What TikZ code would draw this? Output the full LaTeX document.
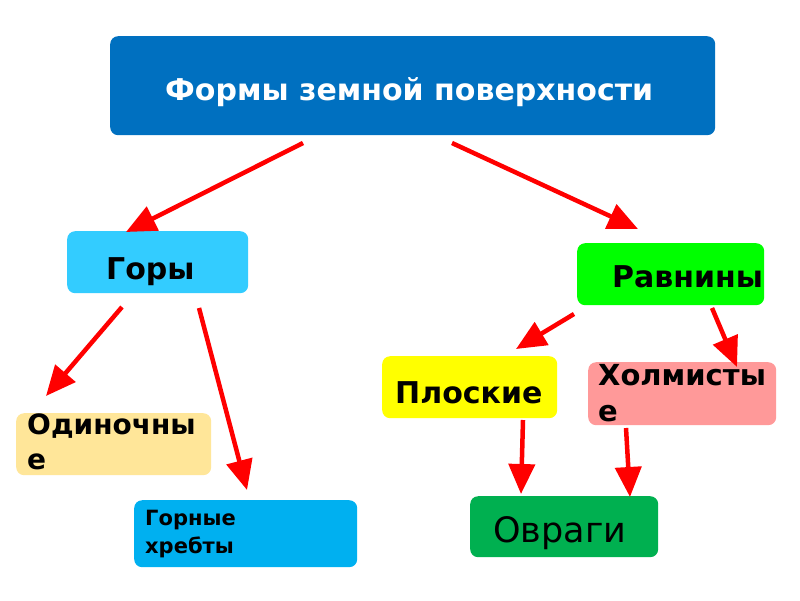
\documentclass[tikz,border=0pt]{standalone}
\usepackage{fontspec}
\setmainfont{DejaVu Sans}
\usetikzlibrary{arrows.meta,calc}
\definecolor{cTop}{HTML}{0070C0}
\definecolor{cGory}{HTML}{33CCFF}
\definecolor{cRavn}{HTML}{00FF00}
\definecolor{cOdin}{HTML}{FFE699}
\definecolor{cHreb}{HTML}{00B0F0}
\definecolor{cPlos}{HTML}{FFFF00}
\definecolor{cHolm}{HTML}{FF9999}
\definecolor{cOvr}{HTML}{00B050}
\begin{document}
\begin{tikzpicture}[x=1pt,y=-1pt,
  box/.style={rounded corners=8pt, inner sep=0pt, anchor=north west},
  lbl/.style={font=\bfseries, text=black, inner sep=0pt, anchor=base west, align=left},
  arr/.style={draw=red, line width=4.5pt, -{Triangle[length=30pt,width=26pt]}}]
\useasboundingbox[fill=white] (0,0) rectangle (800,600);
% boxes
\node[box, fill=cTop,  minimum width=605pt, minimum height=99pt] (top)  at (110,36) {};
\node[box, fill=cGory, minimum width=181pt, minimum height=62pt] (gory) at (67,231) {};
\node[box, fill=cRavn, minimum width=187pt, minimum height=62pt] (ravn) at (577,243) {};
\node[box, fill=cOdin, minimum width=195pt, minimum height=62pt] (odin) at (16,413) {};
\node[box, fill=cHreb, minimum width=223pt, minimum height=67pt] (hreb) at (134,500) {};
\node[box, fill=cPlos, minimum width=175pt, minimum height=62pt] (plos) at (382,356) {};
\node[box, fill=cHolm, minimum width=188pt, minimum height=63pt] (holm) at (588,362) {};
\node[box, fill=cOvr,  minimum width=188pt, minimum height=61pt] (ovr)  at (470,496) {};
% labels
\node[lbl, text=white, font=\bfseries\fontsize{30}{36}\selectfont] (tTop) at (165,100) {Формы земной поверхности};
\node[lbl, font=\bfseries\fontsize{30}{36}\selectfont] (tGory) at (106,279) {Горы};
\node[lbl, font=\bfseries\fontsize{30}{36}\selectfont] (tRavn) at (612,287) {Равнины};
\node[lbl, font=\bfseries\fontsize{28}{35}\selectfont, anchor=north west] (tOdin) at (27,414) {Одиночны\\е};
\node[lbl, font=\bfseries\fontsize{21}{28}\selectfont, anchor=north west] (tHreb) at (145,510) {Горные\\хребты};
\node[lbl, font=\bfseries\fontsize{30}{36}\selectfont] (tPlos) at (395,403) {Плоские};
\node[lbl, font=\bfseries\fontsize{29}{36}\selectfont, anchor=north west] (tHolm) at (598,364) {Холмисты\\е};
\node[lbl, font=\fontsize{35}{40}\selectfont] (tOvr) at (493,542) {Овраги};
% arrow endpoints
\coordinate (a1s) at (303,143); \coordinate (a1e) at (126,232);
\coordinate (a2s) at (452,143); \coordinate (a2e) at (638,229);
\coordinate (a3s) at (122,307); \coordinate (a3e) at (46,396);
\coordinate (a4s) at (199,308); \coordinate (a4e) at (247,490);
\coordinate (a5s) at (574,314); \coordinate (a5e) at (516,349);
\coordinate (a6s) at (712,308); \coordinate (a6e) at (737,367);
\coordinate (a7s) at (523,420); \coordinate (a7e) at (521,494);
\coordinate (a8s) at (626,428); \coordinate (a8e) at (630,497);
\draw[arr] (a1s) -- (a1e);
\draw[arr] (a2s) -- (a2e);
\draw[arr] (a3s) -- (a3e);
\draw[arr] (a4s) -- (a4e);
\draw[arr] (a5s) -- (a5e);
\draw[arr] (a6s) -- (a6e);
\draw[arr] (a7s) -- (a7e);
\draw[arr] (a8s) -- (a8e);
\end{tikzpicture}
\end{document}
